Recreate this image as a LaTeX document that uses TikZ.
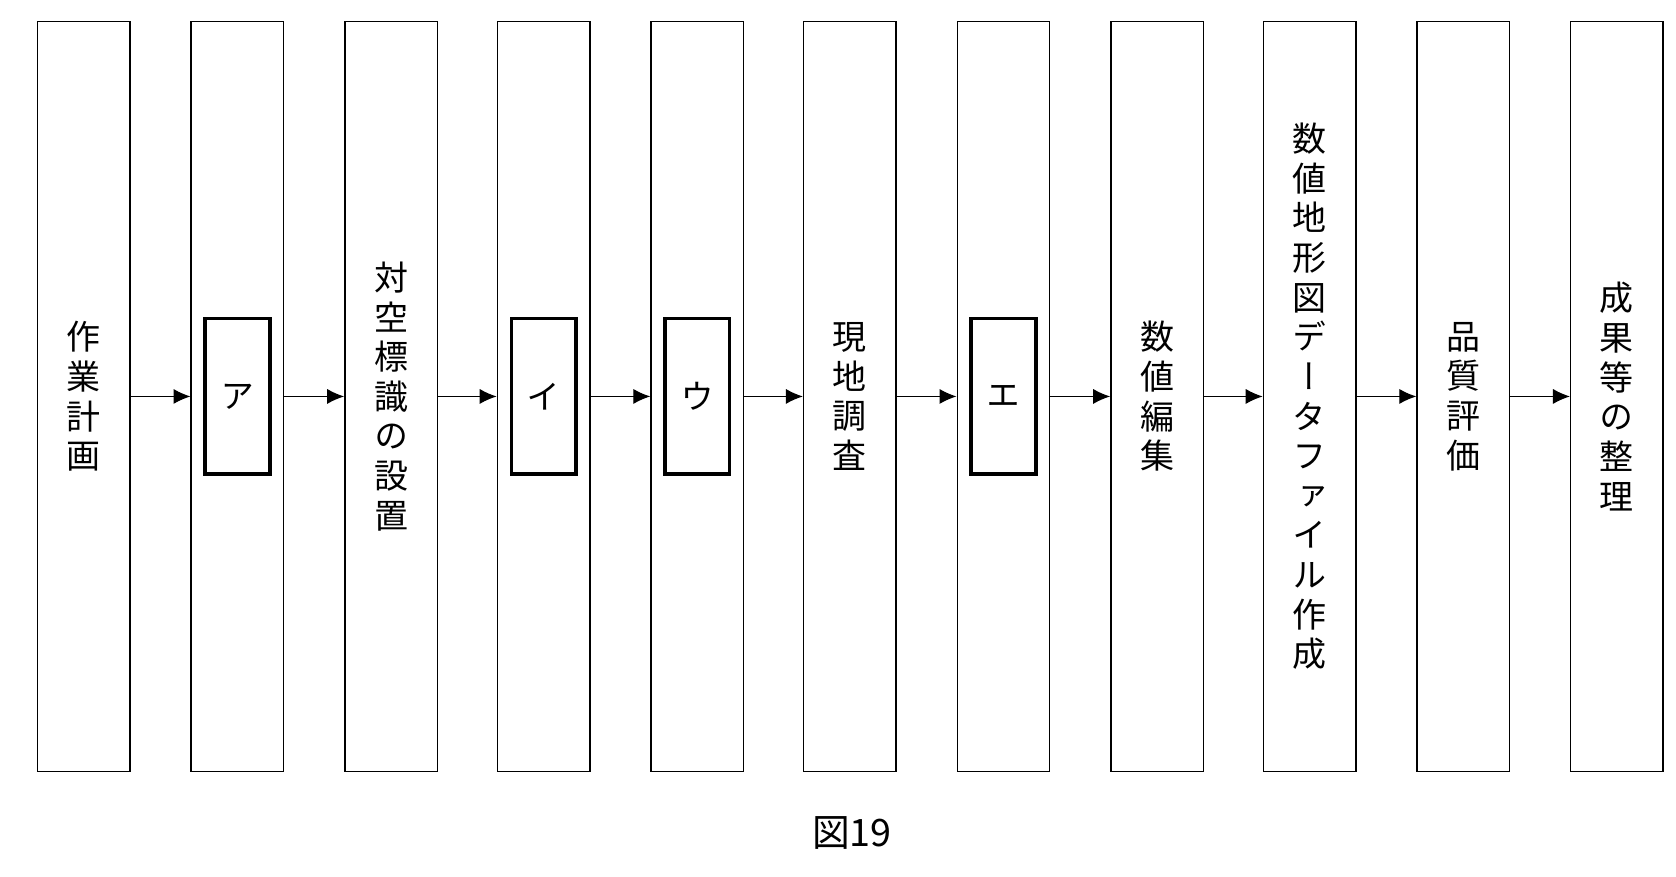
\documentclass[tikz,border=0pt]{standalone}
\usepackage{fontspec}
\newfontfamily\cjk[RawFeature=+vert]{Noto Sans CJK JP}
\newfontfamily\cjkh{Noto Sans CJK JP}
\usetikzlibrary{arrows.meta}
\begin{document}
\begin{tikzpicture}[x=0.02cm,y=-0.02cm,
  col/.style={draw,line width=0.8pt,minimum width=1.72cm,minimum height=13.96cm,inner sep=0pt,
    font=\cjk\fontsize{18}{21}\selectfont,align=center},
  blank/.style={draw,line width=2pt,minimum width=1.2cm,minimum height=2.9cm,inner sep=0pt,font=\cjk\fontsize{18}{21}\selectfont},
  arr/.style={-{Latex[length=9pt,width=8pt]},line width=0.6pt}]
\useasboundingbox (0,0) rectangle (1560,816);
\def\cy{369}
\node[col] (b1) at (78,\cy) {作\\業\\計\\画};
\node[col] (b2) at (221,\cy) {};
\node[col] (b3) at (364,\cy) {対\\空\\標\\識\\の\\設\\置};
\node[col] (b4) at (506,\cy) {};
\node[col] (b5) at (649,\cy) {};
\node[col] (b6) at (791,\cy) {現\\地\\調\\査};
\node[col] (b7) at (934,\cy) {};
\node[col] (b8) at (1077,\cy) {数\\値\\編\\集};
\node[col] (b9) at (1219,\cy) {数\\値\\地\\形\\図\\デ\\ー\\タ\\フ\\ァ\\イ\\ル\\作\\成};
\node[col] (b10) at (1362,\cy) {品\\質\\評\\価};
\node[col] (b11) at (1505,\cy) {成\\果\\等\\の\\整\\理};
\node[blank] (k1) at (221,\cy) {ア};
\node[blank] (k2) at (506,\cy) {イ};
\node[blank] (k3) at (649,\cy) {ウ};
\node[blank] (k4) at (934,\cy) {エ};
\foreach \a/\b in {b1/b2,b2/b3,b3/b4,b4/b5,b5/b6,b6/b7,b7/b8,b8/b9,b9/b10,b10/b11}
  \draw[arr] (\a.east) -- (\b.west);
\node[font=\cjkh\fontsize{20}{22}\selectfont] (cap) at (793,775) {図19};
\end{tikzpicture}
\end{document}
